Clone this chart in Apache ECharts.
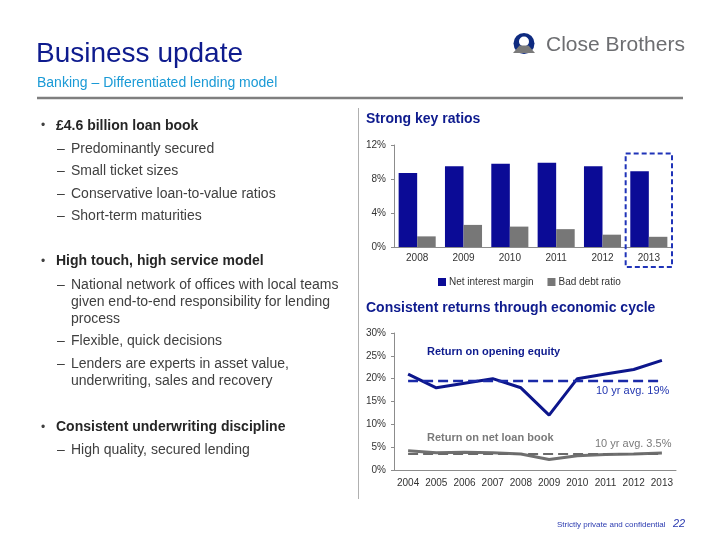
<!DOCTYPE html>
<html>
<head>
<meta charset="utf-8">
<script src="https://cdn.jsdelivr.net/npm/echarts@6/dist/echarts.min.js"></script>
<style>
html,body{margin:0;padding:0;background:#fff;}
#chart{width:720px;height:540px;}
</style>
</head>
<body>
<div id="chart"></div>
<script>
// ---- Data ----
var keyYears = ['2008', '2009', '2010', '2011', '2012', '2013'];
var netInterestMargin = [8.7, 9.5, 9.8, 9.9, 9.5, 8.9];
var badDebtRatio = [1.25, 2.6, 2.4, 2.1, 1.45, 1.2];
var keyTicks = [0, 4, 8, 12];

var returnYears = ['2004', '2005', '2006', '2007', '2008', '2009', '2010', '2011', '2012', '2013'];
var returnOnEquity = [21, 18, 19, 20, 18, 12, 20, 21, 22, 24];
var roeAverage = [19.5, 19.5, 19.5, 19.5, 19.5, 19.5, 19.5, 19.5, 19.5, 19.5];
var returnOnLoanBook = [4.2, 3.8, 3.9, 3.8, 3.5, 2.3, 3.1, 3.4, 3.5, 3.7];
var loanBookAverage = [3.5, 3.5, 3.5, 3.5, 3.5, 3.5, 3.5, 3.5, 3.5, 3.5];
var returnTicks = [0, 5, 10, 15, 20, 25, 30];

var FONT = '"Liberation Sans", Arial, sans-serif';
var NAVY = '#0e1b8e';
var BAR_BLUE = '#0b0b96';
var BAR_GREY = '#777777';

function txt(x, y, s, opt) {
  opt = opt || {};
  return {
    type: 'text', x: x, y: y, silent: true,
    style: {
      text: s, fill: opt.color || '#404040',
      font: (opt.italic ? 'italic ' : '') + (opt.bold ? 'bold ' : '') + (opt.size || 14) + 'px ' + FONT,
      textAlign: opt.align || 'left', textVerticalAlign: 'middle'
    }
  };
}

var leftLines = [
  ['b', '£4.6 billion loan book', 126],
  ['d', 'Predominantly secured', 149],
  ['d', 'Small ticket sizes', 171.5],
  ['d', 'Conservative loan-to-value ratios', 194],
  ['d', 'Short-term maturities', 216.5],
  ['b', 'High touch, high service model', 261.5],
  ['d', 'National network of offices with local teams', 285.5],
  ['c', 'given end-to-end responsibility for lending', 302.5],
  ['c', 'process', 319],
  ['d', 'Flexible, quick decisions', 341.5],
  ['d', 'Lenders are experts in asset value,', 364.5],
  ['c', 'underwriting, sales and recovery', 381.5],
  ['b', 'Consistent underwriting discipline', 427.5],
  ['d', 'High quality, secured lending', 450]
];

var graphics = [];
// Title
graphics.push(txt(36, 54, 'Business update', {size: 28, color: NAVY}));
graphics.push(txt(37, 83.5, 'Banking – Differentiated lending model', {size: 14, color: '#1a9ad6'}));
graphics.push({type: 'line', silent: true, shape: {x1: 37, y1: 98, x2: 683, y2: 98}, style: {stroke: '#7f7f7f', lineWidth: 2.5}});
graphics.push({type: 'line', silent: true, shape: {x1: 358.5, y1: 108, x2: 358.5, y2: 499}, style: {stroke: '#b0b0b0', lineWidth: 1}});
// Logo
graphics.push({type: 'circle', silent: true, shape: {cx: 524, cy: 43.5, r: 10.5}, style: {fill: '#0e2a80'}});
graphics.push({type: 'circle', silent: true, shape: {cx: 524, cy: 41.5, r: 5}, style: {fill: '#ffffff'}});
graphics.push({type: 'polygon', silent: true, shape: {points: [[513, 53], [535, 53], [528.5, 45.5], [519.5, 45.5]]}, style: {fill: '#7a7a7a'}});
graphics.push(txt(546, 45.5, 'Close Brothers', {size: 21, color: '#6d6e71'}));
// Left text
leftLines.forEach(function (l) {
  if (l[0] === 'b') {
    graphics.push(txt(41, l[2], '•', {size: 12, color: '#404040'}));
    graphics.push(txt(56, l[2], l[1], {size: 14, bold: true, color: '#262626'}));
  } else {
    if (l[0] === 'd') graphics.push(txt(57, l[2], '–', {size: 14, color: '#404040'}));
    graphics.push(txt(71, l[2], l[1], {size: 14, color: '#404040'}));
  }
});
// Section headers
graphics.push(txt(366, 119, 'Strong key ratios', {size: 14, bold: true, color: NAVY}));
graphics.push(txt(366, 308, 'Consistent returns through economic cycle', {size: 14, bold: true, color: NAVY}));
// Bottom chart annotations
graphics.push(txt(427, 352, 'Return on opening equity', {size: 11, bold: true, color: NAVY}));
graphics.push(txt(596, 391, '10 yr avg. 19%', {size: 11, color: '#2236b0'}));
graphics.push(txt(427, 437.5, 'Return on net loan book', {size: 11, bold: true, color: '#7a7a7a'}));
graphics.push(txt(595, 444, '10 yr avg. 3.5%', {size: 11, color: '#7a7a7a'}));
// Footer
graphics.push(txt(557, 525, 'Strictly private and confidential', {size: 8, color: '#2a3ab0'}));
graphics.push(txt(673, 524, '22', {size: 11, italic: true, color: '#2a3ab0'}));

var axisText = {color: '#333', fontSize: 10, fontFamily: FONT};

var option = {
  animation: false,
  backgroundColor: '#fff',
  textStyle: {fontFamily: FONT},
  legend: {
    data: ['Net interest margin', 'Bad debt ratio'],
    left: 433, top: 272,
    icon: 'rect', itemWidth: 8, itemHeight: 8, itemGap: 14,
    textStyle: {color: '#333', fontSize: 10, fontFamily: FONT, padding: [0, 0, 0, -2]}
  },
  grid: [
    {left: 394, right: 48, top: 145, bottom: 293},
    {left: 394, right: 44, top: 333, bottom: 70}
  ],
  xAxis: [
    {type: 'category', gridIndex: 0, data: keyYears,
      axisLine: {lineStyle: {color: '#8c8c8c'}}, axisTick: {show: false},
      axisLabel: Object.assign({margin: 6}, axisText)},
    {type: 'category', gridIndex: 1, data: returnYears, boundaryGap: true,
      axisLine: {lineStyle: {color: '#8c8c8c'}}, axisTick: {show: false},
      axisLabel: Object.assign({margin: 8, interval: 0}, axisText)}
  ],
  yAxis: [
    {type: 'value', gridIndex: 0, min: keyTicks[0], max: keyTicks[keyTicks.length - 1], interval: 4,
      axisLine: {show: true, lineStyle: {color: '#8c8c8c'}},
      axisTick: {show: true, length: 3, lineStyle: {color: '#8c8c8c'}},
      splitLine: {show: false},
      axisLabel: Object.assign({margin: 8, formatter: '{value}%'}, axisText)},
    {type: 'value', gridIndex: 1, min: returnTicks[0], max: returnTicks[returnTicks.length - 1], interval: 5,
      axisLine: {show: true, lineStyle: {color: '#8c8c8c'}},
      axisTick: {show: true, length: 3, lineStyle: {color: '#8c8c8c'}},
      splitLine: {show: false},
      axisLabel: Object.assign({margin: 8, formatter: '{value}%'}, axisText)}
  ],
  series: [
    {name: 'Net interest margin', type: 'bar', xAxisIndex: 0, yAxisIndex: 0, data: netInterestMargin,
      itemStyle: {color: BAR_BLUE}, barGap: '0%', barCategoryGap: '20%'},
    {name: 'Bad debt ratio', type: 'bar', xAxisIndex: 0, yAxisIndex: 0, data: badDebtRatio,
      itemStyle: {color: BAR_GREY}},
    {name: 'Return on net loan book', type: 'line', xAxisIndex: 1, yAxisIndex: 1, data: returnOnLoanBook,
      symbol: 'none', lineStyle: {color: '#707070', width: 3}, z: 3},
    {name: 'Loan book avg', type: 'line', xAxisIndex: 1, yAxisIndex: 1, data: loanBookAverage,
      symbol: 'none', lineStyle: {color: '#6a6a6a', width: 2, type: [10, 5]}, z: 4},
    {name: 'Return on opening equity', type: 'line', xAxisIndex: 1, yAxisIndex: 1, data: returnOnEquity,
      symbol: 'none', lineStyle: {color: '#0d168c', width: 3}, z: 3},
    {name: 'ROE avg', type: 'line', xAxisIndex: 1, yAxisIndex: 1, data: roeAverage,
      symbol: 'none', lineStyle: {color: '#1a2aa8', width: 2.5, type: [10, 5]}, z: 4}
  ],
  graphic: {elements: graphics}
};

var chart = echarts.init(document.getElementById('chart'), null, {renderer: 'canvas'});
chart.setOption(option);

// Dashed highlight box around the last key-ratio year, placed with the chart's own scales
var lastYear = keyYears[keyYears.length - 1];
var prevYear = keyYears[keyYears.length - 2];
var cx = chart.convertToPixel({xAxisIndex: 0}, lastYear);
var bw = cx - chart.convertToPixel({xAxisIndex: 0}, prevYear);
var yTop = chart.convertToPixel({yAxisIndex: 0}, 11);
var yAxisPix = chart.convertToPixel({yAxisIndex: 0}, 0);
chart.setOption({
  graphic: {elements: [{
    id: 'highlightBox', type: 'rect', silent: true, z: 10,
    shape: {x: cx - bw / 2, y: yTop, width: bw, height: (yAxisPix + 20) - yTop},
    style: {fill: 'none', stroke: '#1f33b8', lineWidth: 2, lineDash: [5, 3]}
  }]}
});
</script>
</body>
</html>
